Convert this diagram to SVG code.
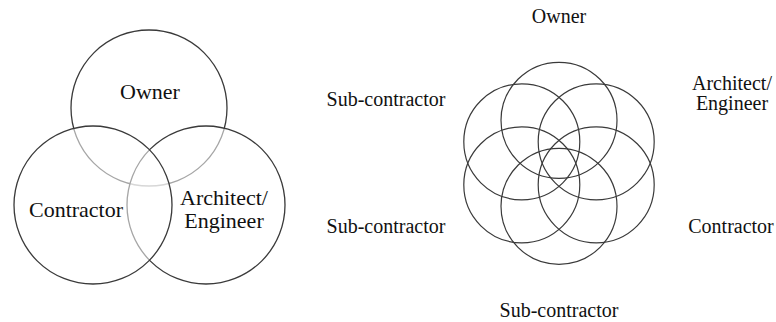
<svg xmlns="http://www.w3.org/2000/svg" width="776" height="322" viewBox="0 0 776 322">
<style>
.c{fill:#fff;fill-opacity:0.55;stroke:#3a3a3a;stroke-width:1.3}
.f{fill:none;stroke:#3a3a3a;stroke-width:1.2}
text{font-family:"Liberation Serif","Times New Roman",serif;fill:#111;text-anchor:middle}
.l{font-size:22px}
.r{font-size:20px}
</style>
<rect width="776" height="322" fill="#fff"/>
<g id="left-venn">
<g id="owner-l"><circle class="c" cx="149" cy="108" r="78"/></g>
<g id="architect-l"><circle class="c" cx="206" cy="205" r="79"/></g>
<g id="contractor-l"><circle class="c" cx="93" cy="205" r="79"/></g>
<text class="l" x="150" y="99">Owner</text>
<text class="l" x="76" y="217">Contractor</text>
<text class="l" x="224" y="205">Architect/</text>
<text class="l" x="224" y="228">Engineer</text>
</g>
<g id="right-flower">
<g id="c-owner"><circle class="f" cx="559" cy="120.3" r="58"/></g>
<g id="c-arch"><circle class="f" cx="596.2" cy="141.8" r="58"/></g>
<g id="c-contr"><circle class="f" cx="596.2" cy="184.8" r="58"/></g>
<g id="c-sub1"><circle class="f" cx="559" cy="206.3" r="58"/></g>
<g id="c-sub2"><circle class="f" cx="521.8" cy="184.8" r="58"/></g>
<g id="c-sub3"><circle class="f" cx="521.8" cy="141.8" r="58"/></g>
<text class="r" x="559" y="23">Owner</text>
<text class="r" x="732" y="90">Architect/</text>
<text class="r" x="732" y="110">Engineer</text>
<text class="r" x="731" y="233">Contractor</text>
<text class="r" x="559" y="317">Sub-contractor</text>
<text class="r" x="386" y="233">Sub-contractor</text>
<text class="r" x="386" y="106">Sub-contractor</text>
</g>
</svg>
